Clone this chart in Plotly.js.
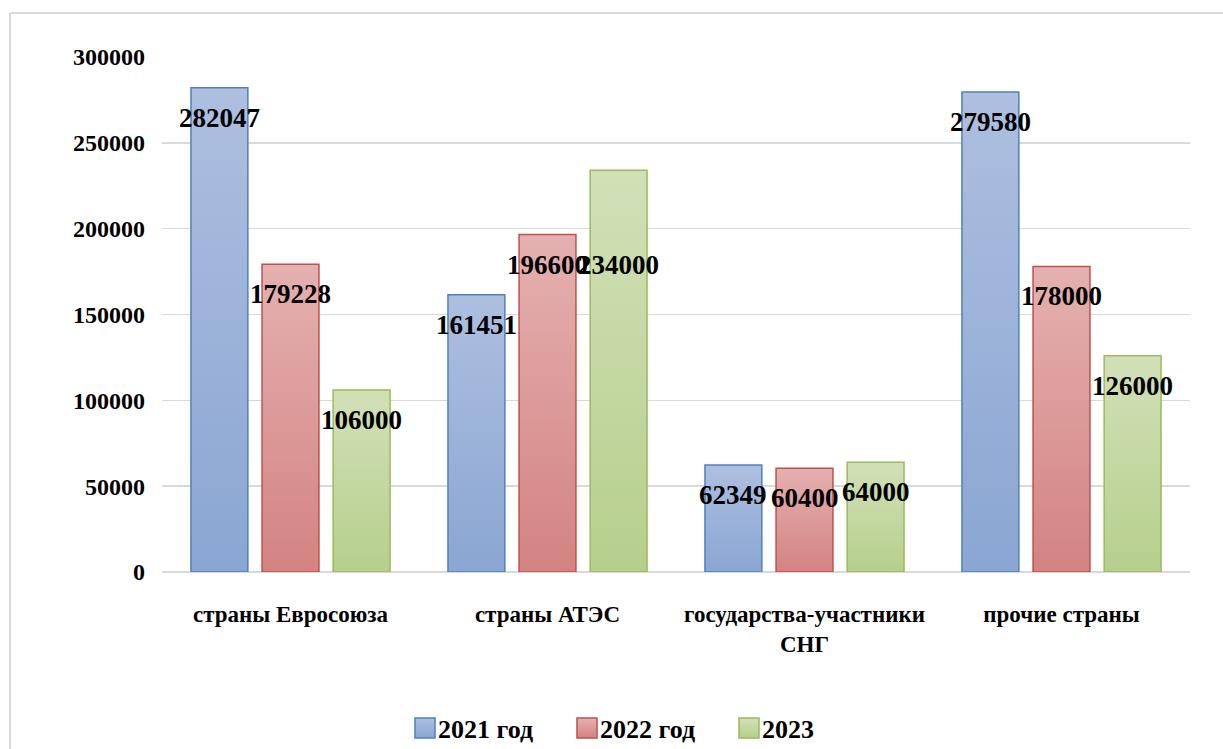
<!DOCTYPE html>
<html>
<head>
<meta charset="utf-8">
<script src="https://cdn.plot.ly/plotly-3.0.1.min.js"></script>
<style>
  html, body { margin: 0; padding: 0; background: #ffffff; }
  #chart { width: 1223px; height: 749px; }
</style>
</head>
<body>
<div id="chart"></div>
<script>
// ---- data ----
var categories = ["страны Евросоюза", "страны АТЭС", "государства-участники<br>СНГ", "прочие страны"];
var seriesNames = ["2021 год", "2022 год", "2023"];
var values2021 = [282047, 161451, 62349, 279580];
var values2022 = [179228, 196600, 60400, 178000];
var values2023 = [106000, 234000, 64000, 126000];
var yTickValues = [0, 50000, 100000, 150000, 200000, 250000, 300000];

// ---- style ----
var seriesValues = [values2021, values2022, values2023];
var lineColors = ["#4f81bd", "#c0504d", "#9bbb59"];
var midColors = ["#9db3da", "#dc9b9a", "#c5d9a3"];
var gradTop = ["#aebfe0", "#e4b1b0", "#d2e0b8"];
var gradBottom = ["#8aa6d2", "#d38382", "#b6cf8c"];
var fontFamily = "'Liberation Serif', 'Times New Roman', serif";

var W = 1223, H = 749;
var mL = 162, mR = 33, mT = 57, mB = 177;
var plotW = W - mL - mR, plotH = H - mT - mB;

var data = seriesValues.map(function (vals, i) {
  return {
    type: "bar",
    name: seriesNames[i],
    x: categories,
    y: vals,
    marker: { color: midColors[i], line: { color: lineColors[i], width: 1.5 } },
    hoverinfo: "none"
  };
});

// data labels: centred over each bar, a little below its top (Excel "inside end");
// the 2023 АТЭС label sits level with the 2022 one, as in the original
var nS = seriesValues.length;
var bargap = 0.17;
var slot = (plotW / categories.length) * (1 - bargap) / nS;
var labelLevelFrom = { "2,1": 1 };
var annotations = [];
seriesValues.forEach(function (vals, i) {
  vals.forEach(function (v, j) {
    var key = i + "," + j;
    var yLevel = (key in labelLevelFrom) ? seriesValues[labelLevelFrom[key]][j] : v;
    annotations.push({
      x: categories[j], y: yLevel, xref: "x", yref: "y",
      text: String(v), showarrow: false,
      xshift: (i - (nS - 1) / 2) * slot,
      yshift: -30,
      font: { family: fontFamily, size: 27, color: "#000000", weight: "bold" }
    });
  });
});

// outer frame (left and top only visible)
var fx0 = (10 - mL) / plotW, fx1 = (W + 5 - mL) / plotW;
var fy1 = 1 + (mT - 13) / plotH, fy0 = -(mB + 5) / plotH;
var shapes = [
  { type: "line", xref: "paper", yref: "paper", x0: fx0, x1: fx0, y0: fy0, y1: fy1, line: { color: "#d9d9d9", width: 2 }, layer: "below" },
  { type: "line", xref: "paper", yref: "paper", x0: fx0, x1: fx1, y0: fy1, y1: fy1, line: { color: "#d9d9d9", width: 2 }, layer: "below" }
];

var layout = {
  width: W, height: H,
  margin: { l: mL, r: mR, t: mT, b: mB, pad: 0, autoexpand: false },
  paper_bgcolor: "#ffffff",
  plot_bgcolor: "#ffffff",
  barmode: "group",
  bargap: bargap,
  bargroupgap: 0.2,
  font: { family: fontFamily, color: "#000000" },
  xaxis: {
    type: "category",
    showgrid: false, showline: false, zeroline: false, ticks: "",
    tickfont: { family: fontFamily, size: 23, color: "#000000", weight: "bold" },
    ticklabelstandoff: 26
  },
  yaxis: {
    range: [0, 300000],
    tickvals: yTickValues,
    ticktext: yTickValues.map(String),
    showgrid: true, gridcolor: "#d9d9d9", gridwidth: 1.5,
    zeroline: true, zerolinecolor: "#d9d9d9", zerolinewidth: 1.5,
    showline: false, ticks: "",
    tickfont: { family: fontFamily, size: 24, color: "#000000", weight: "bold" },
    ticklabelstandoff: 16
  },
  showlegend: true,
  legend: {
    orientation: "h",
    x: (398 - mL) / plotW, xanchor: "left",
    y: -(728 - (mT + plotH)) / plotH, yanchor: "middle",
    font: { family: fontFamily, size: 26, color: "#000000", weight: "bold" },
    itemwidth: 30,
    entrywidth: 117,
    entrywidthmode: "pixels",
    bgcolor: "rgba(0,0,0,0)"
  },
  annotations: annotations,
  shapes: shapes
};

var gd = document.getElementById("chart");
Plotly.newPlot(gd, data, layout, { displayModeBar: false, staticPlot: true }).then(function () {
  var svgNS = "http://www.w3.org/2000/svg";
  var svg = gd.querySelector("svg.main-svg");
  var defs = document.createElementNS(svgNS, "defs");
  svg.insertBefore(defs, svg.firstChild);
  for (var i = 0; i < nS; i++) {
    var g = document.createElementNS(svgNS, "linearGradient");
    g.setAttribute("id", "barGrad" + i);
    g.setAttribute("x1", "0"); g.setAttribute("y1", "0");
    g.setAttribute("x2", "0"); g.setAttribute("y2", "1");
    var s1 = document.createElementNS(svgNS, "stop");
    s1.setAttribute("offset", "0"); s1.setAttribute("stop-color", gradTop[i]);
    var s2 = document.createElementNS(svgNS, "stop");
    s2.setAttribute("offset", "1"); s2.setAttribute("stop-color", gradBottom[i]);
    g.appendChild(s1); g.appendChild(s2);
    defs.appendChild(g);
  }
  var traces = gd.querySelectorAll("g.trace.bars");
  traces.forEach(function (t, i) {
    t.querySelectorAll("path").forEach(function (p) {
      p.setAttribute("fill", "url(#barGrad" + i + ")");
      p.style.setProperty("fill", "url(#barGrad" + i + ")", "important");
    });
  });
  var legPts = gd.querySelectorAll(".legend .traces .legendpoints path");
  legPts.forEach(function (p, i) {
    p.style.setProperty("fill", "url(#barGrad" + (i % nS) + ")", "important");
    p.setAttribute("transform", "translate(27,0) scale(1.67)");
    p.setAttribute("vector-effect", "non-scaling-stroke");
    p.style.strokeWidth = "1.5px";
  });
});
</script>
</body>
</html>
